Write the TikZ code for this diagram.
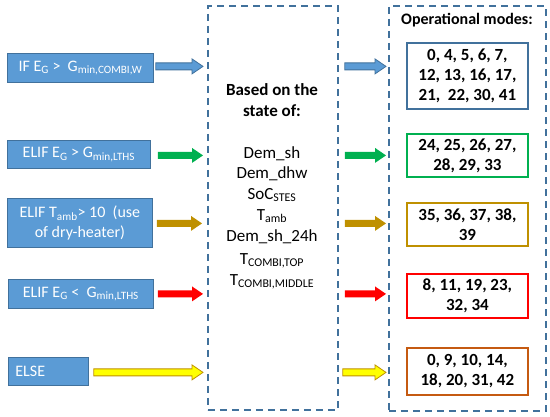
\documentclass[tikz,border=0pt]{standalone}
\usepackage{fontspec}
\setmainfont{Carlito}
\usetikzlibrary{calc}
\definecolor{bfill}{HTML}{5B9BD5}
\definecolor{bline}{HTML}{41719C}
\definecolor{cgreen}{HTML}{00B050}
\definecolor{cgold}{HTML}{BF9000}
\definecolor{cred}{HTML}{FF0000}
\definecolor{cyel}{HTML}{FFFF00}
\definecolor{corange}{HTML}{C55A11}
\newcommand\blockarrow[3]{%
  \path[#1] ($(#2)+(0,-3.5)$) -- ($(#3)+(-11,-3.5)$) -- ($(#3)+(-11,-7.5)$) -- (#3)
    -- ($(#3)+(-11,7.5)$) -- ($(#3)+(-11,3.5)$) -- ($(#2)+(0,3.5)$) -- cycle;}
\tikzset{
  cond/.style={draw=bline, line width=0.8pt, fill=bfill, text=white, anchor=north west,
    align=center, inner sep=2pt, font=\fontsize{16}{20}\selectfont},
  dashbox/.style={draw=bline, line width=1.8pt, dash pattern=on 7pt off 5pt, anchor=north west},
  modebox/.style={draw=#1, line width=1.8pt, anchor=north west, minimum width=121pt,
    align=center, inner sep=1pt, font=\fontsize{17}{20}\selectfont\bfseries},
  midtext/.style={font=\fontsize{17}{20}\selectfont, inner sep=0pt},
  arblue/.style={fill=bfill, draw=bline, line width=0.8pt},
  argreen/.style={fill=cgreen},
  argold/.style={fill=cgold},
  arred/.style={fill=cred},
  aryel/.style={fill=cyel, draw=cgold, line width=0.8pt},
}
\begin{document}
\begin{tikzpicture}[x=1pt, y=-1pt]
\useasboundingbox (0,0) rectangle (550,417);
% condition boxes
\node[cond, minimum width=146pt, minimum height=29pt] (c1) at (7,53)
  {IF E\textsubscript{G} >\ \ G\textsubscript{min,COMBI,W}};
\node[cond, minimum width=143pt, minimum height=28pt] (c2) at (7,140)
  {ELIF E\textsubscript{G} >\ G\textsubscript{min,LTHS}};
\node[cond, minimum width=145pt, minimum height=49pt] (c3) at (7,198)
  {ELIF T\textsubscript{amb}> 10\ \ (use\\of dry-heater)};
\node[cond, minimum width=145pt, minimum height=29pt] (c4) at (8,279)
  {ELIF E\textsubscript{G} <\ \ G\textsubscript{min,LTHS}};
\node[cond, text width=66pt, inner xsep=7pt, align=left, minimum height=28pt] (c5) at (8,357)
  {ELSE};
% dashed boxes
\node[dashbox, minimum width=130pt, minimum height=404pt] (mid) at (207,5) {};
\node[dashbox, minimum width=157pt, minimum height=405pt] (right) at (388,5) {};
% middle text
\node[midtext, align=center, font=\fontsize{17}{21}\selectfont\bfseries] (hd) at (272,100.5)
  {Based on the\\state of:};
\node[midtext] (v1) at (272,154) {Dem\_sh};
\node[midtext] (v2) at (272,174) {Dem\_dhw};
\node[midtext] (v3) at (272,195) {SoC\textsubscript{STES}};
\node[midtext] (v4) at (272,216) {T\textsubscript{amb}};
\node[midtext] (v5) at (272,237) {Dem\_sh\_24h};
\node[midtext] (v6) at (272,261) {T\textsubscript{COMBI,TOP}};
\node[midtext] (v7) at (272,282) {T\textsubscript{COMBI,MIDDLE}};
% right text
\node[font=\fontsize{16}{20}\selectfont\bfseries, inner sep=0pt] (om) at (467,20) {Operational modes:};
\node[modebox=bline, minimum height=66pt] (m1) at (406,42)
  {0, 4, 5, 6, 7,\\12, 13, 16, 17,\\21,\ \ 22, 30, 41};
\node[modebox=cgreen, minimum height=43pt] (m2) at (406,133)
  {24, 25, 26, 27,\\28, 29, 33};
\node[modebox=cgold, minimum height=43pt] (m3) at (406,202)
  {35, 36, 37, 38,\\39};
\node[modebox=cred, minimum height=44pt] (m4) at (406,273)
  {8, 11, 19, 23,\\32, 34};
\node[modebox=corange, minimum height=47pt] (m5) at (406,347)
  {0, 9, 10, 14,\\18, 20, 31, 42};
% connector coordinates
\coordinate (s1) at ($(c1.east)+(2,-1.5)$);
\coordinate (s2) at ($(c2.east)+(7,1)$);
\coordinate (s3) at ($(c3.east)+(4,0.5)$);
\coordinate (s4) at ($(c4.east)+(4,0)$);
\coordinate (s5) at ($(c5.east)+(5,1)$);
\coordinate (e1) at ($(mid.west |- s1)+(-4,0)$);
\coordinate (e2) at ($(mid.west |- s2)+(-4,0)$);
\coordinate (e3) at ($(mid.west |- s3)+(-5,0)$);
\coordinate (e4) at ($(mid.west |- s4)+(-4,0)$);
\coordinate (e5) at ($(mid.west |- s5)+(-4,0)$);
\coordinate (r1) at ($(mid.east |- s1)+(6,0)$);
\coordinate (r2) at ($(mid.east |- s2)+(6,0)$);
\coordinate (r3) at ($(mid.east |- s3)+(6,0)$);
\coordinate (r4) at ($(mid.east |- s4)+(6,0)$);
\coordinate (r5) at ($(mid.east |- s5)+(4,0)$);
\coordinate (t1) at ($(right.west |- s1)+(-2,0)$);
\coordinate (t2) at ($(right.west |- s2)+(-2,0)$);
\coordinate (t3) at ($(right.west |- s3)+(-2,0)$);
\coordinate (t4) at ($(right.west |- s4)+(-2,0)$);
\coordinate (t5) at ($(right.west |- s5)+(-2,0)$);
% arrows
\blockarrow{arblue}{s1}{e1}
\blockarrow{argreen}{s2}{e2}
\blockarrow{argold}{s3}{e3}
\blockarrow{arred}{s4}{e4}
\blockarrow{aryel}{s5}{e5}
\blockarrow{arblue}{r1}{t1}
\blockarrow{argreen}{r2}{t2}
\blockarrow{argold}{r3}{t3}
\blockarrow{arred}{r4}{t4}
\blockarrow{aryel}{r5}{t5}
\end{tikzpicture}
\end{document}
